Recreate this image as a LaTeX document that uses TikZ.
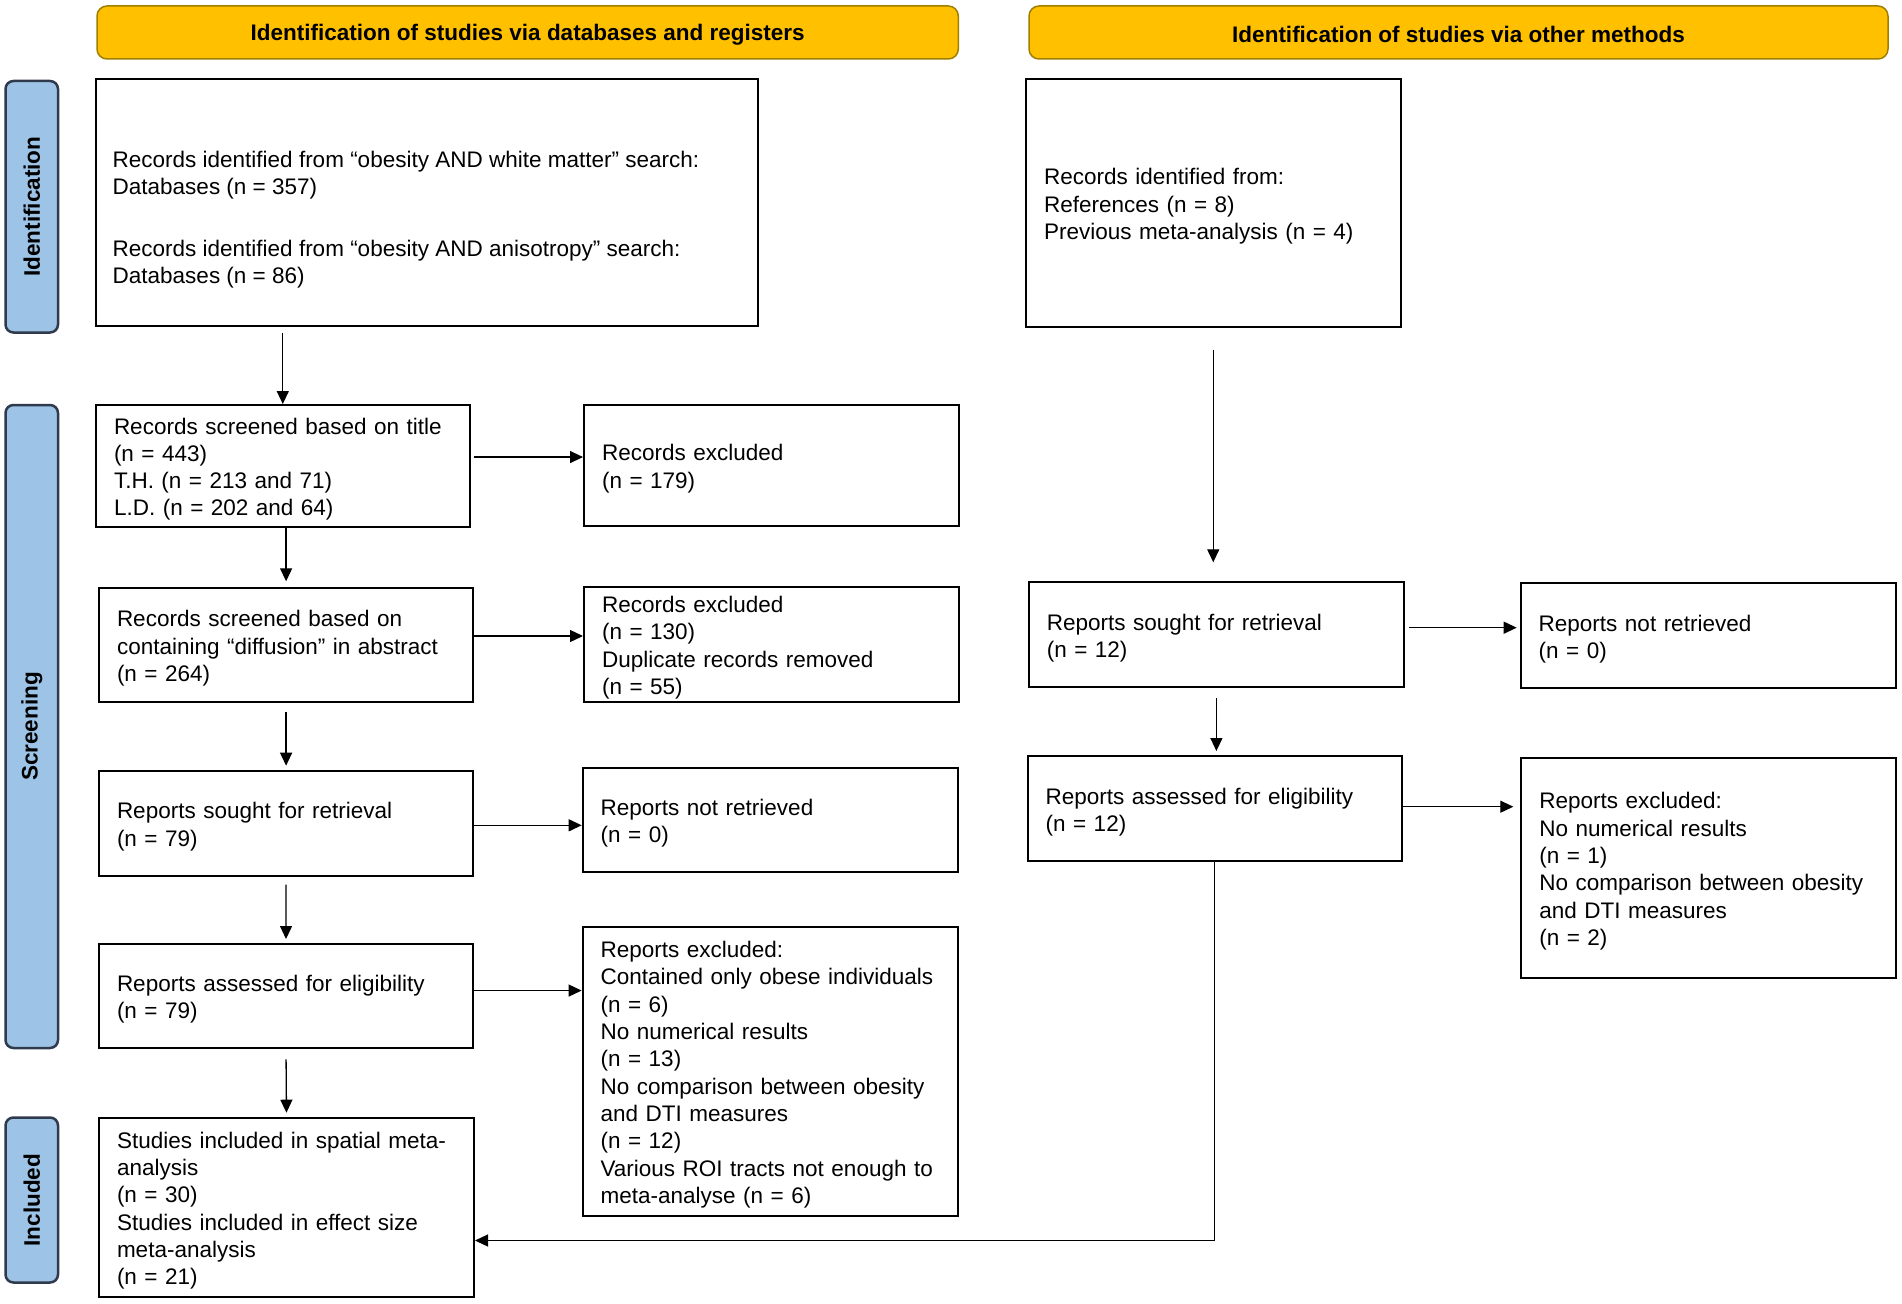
\documentclass[tikz,border=0pt]{standalone}
\usepackage{fontspec}
\setmainfont{Liberation Sans}
\usepackage{graphicx}
\usetikzlibrary{arrows.meta,calc}
\definecolor{hdrfill}{HTML}{FFC000}
\definecolor{hdrdraw}{HTML}{A07F00}
\definecolor{sidefill}{HTML}{9DC3E6}
\definecolor{sidedraw}{HTML}{2F3B4C}
\begin{document}
\begin{tikzpicture}[x=1pt,y=-1pt,
  every node/.style={font=\fontsize{22.5pt}{27.3pt}\selectfont},
  box/.style={draw=black, line width=2pt, rectangle, inner xsep=18pt, inner ysep=0pt, align=left,
    execute at begin node={\rule{0pt}{23pt}}},
  txt/.style={inner sep=0pt, align=left},
  hdr/.style={draw=hdrdraw, fill=hdrfill, line width=1.5pt, rounded corners=10pt, minimum height=53pt,
    font=\fontsize{22.5pt}{27pt}\selectfont\bfseries, execute at begin node={\rule{0pt}{21pt}}},
  side/.style={draw=sidedraw, fill=sidefill, line width=2.5pt, rounded corners=8pt, minimum width=52.5pt, inner sep=0pt, font=\fontsize{22.5pt}{27pt}\selectfont\bfseries},
  arr/.style={-{Triangle[length=13pt,width=12pt]}, line width=1.3pt}
]
\useasboundingbox (0,0) rectangle (1902,1303);

% headers
\node[hdr, minimum width=861.3pt] (h1) at (527.65,32.5) {Identification of studies via databases and registers};
\node[hdr, minimum width=859pt] (h2) at (1458.5,32.5) {Identification of studies via other methods};

% side labels
\node[side, minimum height=251.5pt] (sid) at (31.75,206.75) {\rotatebox{90}{Identification}};
\node[side, minimum height=643pt] (sscr) at (31.75,726.5) {\rotatebox{90}{Screening}};
\node[side, minimum height=165pt] (sinc) at (31.75,1200) {\rotatebox{90}{Included}};

% left column
\node[box, minimum width=662.5pt, minimum height=246.5pt, execute at begin node={}] (id1) at (426.75,202.75) {};
\node[txt, anchor=west] (id1txt) at ([xshift=18pt,yshift=-17pt]id1.west) {Records identified from “obesity AND white matter” search:\\Databases (n = 357)\\[34.5pt]Records identified from “obesity AND anisotropy” search:\\Databases (n = 86)};

\node[box, minimum width=373.6pt, minimum height=121.7pt, text width=337.6pt] (s1) at (282.8,465.85) {Records screened based on title\\(n = 443)\\T.H. (n = 213 and 71)\\L.D. (n = 202 and 64)};
\node[box, minimum width=374.5pt, minimum height=121.3pt, text width=338.5pt] (ex1) at (771.25,465.35) {Records excluded\\(n = 179)};

\node[box, minimum width=374.2pt, minimum height=113.4pt, text width=338.2pt] (s2) at (286.1,645) {Records screened based on\\containing “diffusion” in abstract\\(n = 264)};
\node[box, minimum width=374.5pt, minimum height=114.7pt, text width=338.5pt] (ex2) at (771.25,644.35) {Records excluded\\(n = 130)\\Duplicate records removed\\(n = 55)};

\node[box, minimum width=374.2pt, minimum height=105pt, text width=338.2pt] (s3) at (286.1,823.2) {Reports sought for retrieval\\(n = 79)};
\node[box, minimum width=375.3pt, minimum height=104.3pt, text width=339.3pt] (ex3) at (770.35,819.85) {Reports not retrieved\\(n = 0)};

\node[box, minimum width=374pt, minimum height=104.3pt, text width=338pt] (s4) at (286,996.15) {Reports assessed for eligibility\\(n = 79)};
\node[box, minimum width=375.7pt, minimum height=289.3pt, text width=339.7pt] (ex4) at (770.45,1071.35) {Reports excluded:\\Contained only obese individuals\\(n = 6)\\No numerical results\\(n = 13)\\No comparison between obesity\\and DTI measures\\(n = 12)\\Various ROI tracts not enough to\\meta-analyse (n = 6)};

\node[box, minimum width=375pt, minimum height=179pt, text width=339pt] (inc) at (286.5,1207.2) {Studies included in spatial meta-\\analysis\\(n = 30)\\Studies included in effect size\\meta-analysis\\(n = 21)};

% right column
\node[box, minimum width=374.5pt, minimum height=247.4pt, text width=338.5pt] (id2) at (1213.25,203) {Records identified from:\\References (n = 8)\\Previous meta-analysis (n = 4)};
\node[box, minimum width=375.2pt, minimum height=105pt, text width=339.2pt] (r1) at (1216.4,634.8) {Reports sought for retrieval\\(n = 12)};
\node[box, minimum width=375.2pt, minimum height=105pt, text width=339.2pt] (r1x) at (1708.3,635.8) {Reports not retrieved\\(n = 0)};
\node[box, minimum width=374pt, minimum height=105pt, text width=338pt] (r2) at (1214.6,808.5) {Reports assessed for eligibility\\(n = 12)};
\node[box, minimum width=374.6pt, minimum height=219.4pt, text width=338.6pt] (r2x) at (1708.6,868) {Reports excluded:\\No numerical results\\(n = 1)\\No comparison between obesity\\and DTI measures\\(n = 2)};

% vertical arrows, left
\draw[arr, shorten <=6pt] (id1.south -| s1.north) -- (s1.north);
\draw[arr, shorten >=6pt] (s1.south -| s2.north) -- (s2.north);
\draw[arr, shorten <=9pt, shorten >=4pt] (s2.south) -- (s3.north);
\draw[arr, shorten <=8pt, shorten >=4pt] (s3.south) -- (s4.north);
\draw[arr, shorten <=10pt, shorten >=4pt] (s4.south) -- (inc.north);

% horizontal arrows, left
\coordinate (a1) at ([yshift=8.8pt]s1.east);
\draw[arr, shorten <=3pt] (a1) -- (a1 -| ex1.west);
\coordinate (a2) at ([yshift=9pt]s2.east);
\draw[arr] (a2) -- (a2 -| ex2.west);
\coordinate (a3) at ([yshift=-2.1pt]s3.east);
\draw[arr] (a3) -- (a3 -| ex3.west);
\coordinate (a4) at ([yshift=5.6pt]s4.east);
\draw[arr] (a4) -- (a4 -| ex4.west);

% right column arrows
\draw[arr, shorten <=22pt, shorten >=19pt] (id2.south) -- (id2.south |- r1.north);
\coordinate (b1) at ([yshift=7.1pt]r1.east);
\draw[arr, shorten <=4pt, shorten >=3pt] (b1) -- (b1 -| r1x.west);
\draw[arr, shorten <=10pt, shorten >=4pt] (r1.south) -- (r1.south |- r2.north);
\coordinate (b2) at ([yshift=1.8pt]r2.east);
\draw[arr, shorten >=7pt] (b2) -- (b2 -| r2x.west);
\coordinate (bend) at (1214.6,1240.5);
\draw[arr] (r2.south) -- (bend) -- (bend -| inc.east);
\end{tikzpicture}
\end{document}
